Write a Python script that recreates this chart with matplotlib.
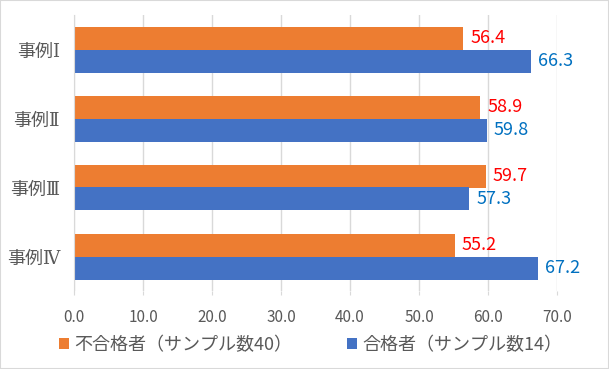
import matplotlib
matplotlib.use("Agg")
import matplotlib.pyplot as plt
import numpy as np
from matplotlib.patches import Rectangle

plt.rcParams['font.family'] = ['Noto Sans CJK JP', 'DejaVu Sans']

categories = ['事例Ⅰ', '事例Ⅱ', '事例Ⅲ', '事例Ⅳ']
fail_vals = [56.4, 58.9, 59.7, 55.2]
pass_vals = [66.3, 59.8, 57.3, 67.2]
fail_name = '不合格者（サンプル数40）'
pass_name = '合格者（サンプル数14）'
xticks = [0, 10, 20, 30, 40, 50, 60, 70]

c_fail = '#ED7D31'
c_pass = '#4472C4'
txt = '#595959'
grid = '#D9D9D9'

W, H = 609, 369
fig = plt.figure(figsize=(W / 100, H / 100), dpi=100)
ax = fig.add_axes([74 / W, 1 - 291 / H, (557 - 74) / W, (291 - 15) / H])

y = np.arange(len(categories))
h = 1 / 3
b1 = ax.barh(y - h / 2, fail_vals, height=h, color=c_fail, label=fail_name, zorder=2)
b2 = ax.barh(y + h / 2, pass_vals, height=h, color=c_pass, label=pass_name, zorder=2)

for bar, v in zip(b1, fail_vals):
    ax.annotate(f'{v:.1f}', (v, bar.get_y() + bar.get_height() / 2), xytext=(5, 0),
                textcoords='offset points', va='center', ha='left', color='#FF0000', fontsize=13)
for bar, v in zip(b2, pass_vals):
    ax.annotate(f'{v:.1f}', (v, bar.get_y() + bar.get_height() / 2), xytext=(5, 0),
                textcoords='offset points', va='center', ha='left', color='#0070C0', fontsize=13)

ax.set_xlim(0, 70)
ax.set_ylim(len(categories) - 0.5, -0.5)
ax.set_xticks(xticks)
ax.set_xticklabels([f'{t:.1f}' for t in xticks], color=txt, fontsize=11)
ax.set_yticks(y)
ax.set_yticklabels(categories, color=txt, fontsize=13,
                   family=['DejaVu Serif', 'Noto Sans CJK JP'])
ax.tick_params(axis='y', length=0, pad=10)
ax.tick_params(axis='x', length=3, color=grid, pad=10)
ax.grid(axis='x', color=grid, lw=1, zorder=0)
for s in ['top', 'right', 'bottom']:
    ax.spines[s].set_visible(False)
ax.spines['left'].set_color(grid)

leg = fig.legend(handles=[b1, b2], loc='center', bbox_to_anchor=(0.51, 1 - 345 / H), ncol=2,
                 frameon=False, fontsize=13, handlelength=0.55, handleheight=0.55,
                 handletextpad=0.3, columnspacing=3.0)
for t in leg.get_texts():
    t.set_color(txt)

fig.patches.append(Rectangle((0, 0), 1, 1, transform=fig.transFigure, fill=False,
                             edgecolor=grid, lw=1.5))

fig.savefig('out.png', dpi=100)
